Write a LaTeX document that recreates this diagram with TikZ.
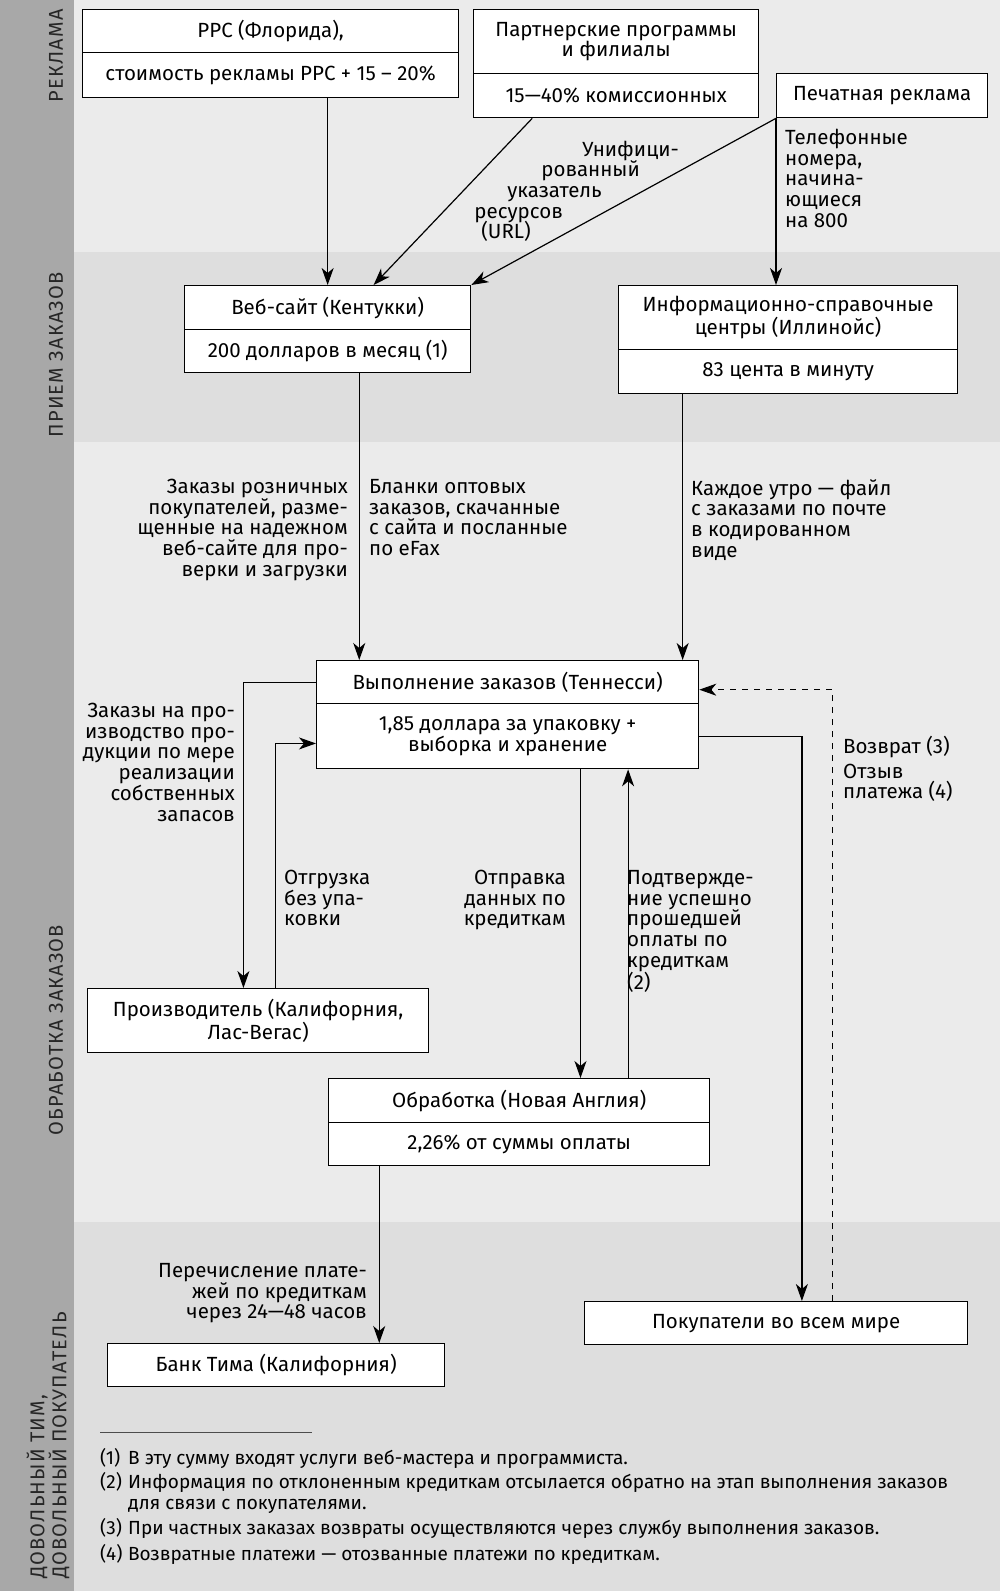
\documentclass[tikz,border=0pt]{standalone}
\usepackage{fontspec}
\setmainfont{Fira Sans}
\newfontfamily\bandfont[LetterSpace=6]{Fira Sans}
\usetikzlibrary{arrows.meta,calc}

\definecolor{bargray}{HTML}{A8A8A8}
\definecolor{bandlight}{HTML}{EBEBEB}
\definecolor{banddark}{HTML}{DEDEDE}

\newcommand{\fnmark}[1]{\makebox[28pt][l]{(#1)}}

\begin{document}
\begin{tikzpicture}[x=1pt, y=-1pt,
	box/.style={draw, fill=white, line width=1.3pt, inner sep=0pt, anchor=north west, align=center, font=\fontsize{20.5}{20.7}\selectfont},
	lbl/.style={inner sep=0pt, font=\fontsize{20.5}{20.7}\selectfont},
	note/.style={inner sep=0pt, anchor=base west, align=left, font=\fontsize{19}{21}\selectfont},
	band/.style={rotate=90, inner sep=0pt, align=left, font=\bandfont\fontsize{20}{22}\selectfont, text=black!85},
	flow/.style={line width=1.2pt, -{Stealth[length=17pt, width=12pt, inset=5pt]}}]
			\useasboundingbox (0,0) rectangle (1000,1591);
			% bands
			\fill[bargray] (0,0) rectangle (74,1591);
			\fill[bandlight] (74,0) rectangle (1000,252);
			\fill[banddark] (74,252) rectangle (1000,442);
			\fill[bandlight] (74,442) rectangle (1000,1222);
			\fill[banddark] (74,1222) rectangle (1000,1591);
			\node[band] (bAds) at (56,56) {РЕКЛАМА};
			\node[band] (bOrders) at (56,355) {ПРИЕМ ЗАКАЗОВ};
			\node[band] (bProcess) at (56,1030) {ОБРАБОТКА ЗАКАЗОВ};
			\node[band, anchor=west] (bHappy) at (48,1579) {ДОВОЛЬНЫЙ ТИМ,\\ДОВОЛЬНЫЙ ПОКУПАТЕЛЬ};
			
			% boxes
			\node[box, minimum width=376, minimum height=43] (ppc) at (82,9) {PPC (Флорида),};
			\node[box, minimum width=376, minimum height=45] (ppcCost) at (82,52) {стоимость рекламы PPC + 15 – 20\%};
			\node[box, minimum width=285, minimum height=64] (partner) at (473,9) {Партнерские программы\\и филиалы};
			\node[box, minimum width=285, minimum height=44] (partnerCost) at (473,73) {15—40\% комиссионных};
			\node[box, minimum width=211, minimum height=44] (print) at (776,73) {Печатная реклама};
			\node[box, minimum width=286, minimum height=44] (web) at (184,285) {Веб-сайт (Кентукки)};
			\node[box, minimum width=286, minimum height=43] (webCost) at (184,329) {200 долларов в месяц (1)};
			\node[box, minimum width=339, minimum height=64] (info) at (618,285) {Информационно-справочные\\центры (Иллинойс)};
			\node[box, minimum width=339, minimum height=44] (infoCost) at (618,349) {83 цента в минуту};
			\node[box, minimum width=382, minimum height=43] (fulf) at (316,660) {Выполнение заказов (Теннесси)};
			\node[box, minimum width=382, minimum height=65] (fulfCost) at (316,703) {1,85 доллара за упаковку +\\выборка и хранение};
			\node[box, minimum width=341, minimum height=64] (prod) at (87,988) {Производитель (Калифорния,\\Лас-Вегас)};
			\node[box, minimum width=381, minimum height=44] (proc) at (328,1078) {Обработка (Новая Англия)};
			\node[box, minimum width=381, minimum height=43] (procCost) at (328,1122) {2,26\% от суммы оплаты};
			\node[box, minimum width=383, minimum height=43] (cust) at (584,1301) {Покупатели во всем мире};
			\node[box, minimum width=337, minimum height=43] (bank) at (107,1343) {Банк Тима (Калифорния)};
			
			% connectors
			\draw[flow] (web.north |- ppcCost.south) -- (web.north);
			\draw[flow] ($(partnerCost.south west)!0.207!(partnerCost.south east)$) -- ($(web.north west)!0.66!(web.north east)$);
			\draw[flow] (print.south west) -- (web.north east);
			\draw[flow] (print.south west) -- (print.south west |- info.north);
			\draw[flow] ($(webCost.south west)!0.61!(webCost.south east)$) coordinate (webOut) -- (webOut |- fulf.north);
			\draw[flow] ($(infoCost.south west)!0.19!(infoCost.south east)$) coordinate (infoOut) -- (infoOut |- fulf.north);
			\draw[flow] (fulf.west) -| ($(prod.north west)!0.457!(prod.north east)$);
			\draw[flow] ($(prod.north west)!0.55!(prod.north east)$) |- ($(fulfCost.north west)!0.61!(fulfCost.south west)$);
			\draw[flow] ($(fulfCost.south west)!0.69!(fulfCost.south east)$) coordinate (fulfOut) -- (fulfOut |- proc.north);
			\draw[flow] ($(proc.north west)!0.785!(proc.north east)$) coordinate (procOut) -- (procOut |- fulfCost.south);
			\draw[flow] ($(procCost.south west)!0.134!(procCost.south east)$) coordinate (procPay) -- (procPay |- bank.north);
			\draw[flow] (fulfCost.east) -| ($(cust.north west)!0.567!(cust.north east)$);
			\draw[flow, line width=1pt, dash pattern=on 6pt off 6pt] ($(cust.north west)!0.647!(cust.north east)$) |- ($(fulf.north east)!0.67!(fulf.south east)$);
			
			% labels
			\node[lbl, anchor=base east] (url1) at (679,156) {Унифици-};
			\node[lbl, anchor=base east] (url2) at (640,176) {рованный};
			\node[lbl, anchor=base east] (url3) at (602,197) {указатель};
			\node[lbl, anchor=base east] (url4) at (563,218) {ресурсов};
			\node[lbl, anchor=base east] (url5) at (531,238) {(URL)};
			\node[lbl, anchor=north west, align=left] (phone) at (785,129) {Телефонные\\номера,\\начина-\\ющиеся\\на 800};
			\node[lbl, anchor=north east, align=right] (retail) at (348,479) {Заказы розничных\\покупателей, разме-\\щенные на надежном\\веб-сайте для про-\\верки и загрузки};
			\node[lbl, anchor=north west, align=left] (wholesale) at (369,479) {Бланки оптовых\\заказов, скачанные\\с сайта и посланные\\по eFax};
			\node[lbl, anchor=north west, align=left] (morning) at (691,479) {Каждое утро — файл\\с заказами по почте\\в кодированном\\виде};
			\node[lbl, anchor=north east, align=right] (prodOrders) at (235,703) {Заказы на про-\\изводство про-\\дукции по мере\\реализации\\собственных\\запасов};
			\node[lbl, anchor=north west, align=left] (ship) at (284,870) {Отгрузка\\без упа-\\ковки};
			\node[lbl, anchor=north east, align=right] (cardSend) at (566,870) {Отправка\\данных по\\кредиткам};
			\node[lbl, anchor=north west, align=left] (confirm) at (627,870) {Подтвержде-\\ние успешно\\прошедшей\\оплаты по\\кредиткам\\(2)};
			\node[lbl, anchor=north west, align=left] (returns) at (843,736) {Возврат (3)\\[4pt]Отзыв\\платежа (4)};
			\node[lbl, anchor=north east, align=right] (transfer) at (367,1263) {Перечисление плате-\\жей по кредиткам\\через 24—48 часов};
			
			% footnotes
			\draw[line width=0.8pt, black!70] (100,1432) -- (312,1432);
			\node[note] (fn1) at (100,1464) {\fnmark{1}В эту сумму входят услуги веб-мастера и программиста.};
			\node[note] (fn2) at (100,1488) {\fnmark{2}Информация по отклоненным кредиткам отсылается обратно на этап выполнения заказов};
			\node[note] (fn2b) at (128,1509) {для связи с покупателями.};
			\node[note] (fn3) at (100,1534) {\fnmark{3}При частных заказах возвраты осуществляются через службу выполнения заказов.};
			\node[note] (fn4) at (100,1560) {\fnmark{4}Возвратные платежи — отозванные платежи по кредиткам.};
			\end{tikzpicture}
\end{document}
